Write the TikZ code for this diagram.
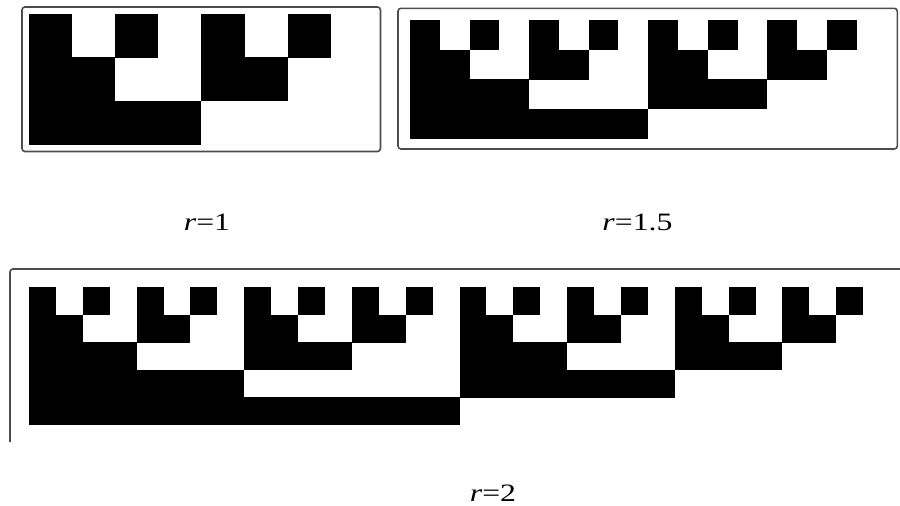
\documentclass[tikz,border=0pt]{standalone}
\usepackage{fontspec}
\setmainfont{Liberation Serif}
\newcommand\drawcantor[5]{%
  \pgfmathtruncatemacro\Lm{#5-1}%
  \foreach \i in {0,...,\Lm}{%
    \pgfmathtruncatemacro\w{2^\i}%
    \pgfmathtruncatemacro\nb{2^(#5-\i-1)-1}%
    \foreach \m in {0,...,\nb}{%
      \fill[cell] ({#1+2*\m*\w*#3},{#2+\i*#4}) rectangle ++({\w*#3},{#4+0.6});
    }%
  }%
}
\tikzset{
  frame/.style={draw=black!70, line width=1.6pt, rounded corners=3pt},
  cell/.style={fill=black},
  lab/.style={font=\fontsize{25}{28}\selectfont, inner sep=0pt, anchor=base}
}
\begin{document}
\begin{tikzpicture}[x=1pt,y=-1pt]
\useasboundingbox (0,0) rectangle (900,506);
% panel r=1
\draw[frame] (22,7) rectangle (380.5,151.5);
\drawcantor{29}{14}{43.1}{43.3}{3}
% panel r=1.5
\draw[frame] (398,8.3) rectangle (897.3,149);
\drawcantor{410}{20}{29.78}{29.6}{4}
% panel r=2
\draw[frame] (10,442) -- (10,269) -- (903,269);
\drawcantor{29}{287.3}{26.91}{27.4}{5}
% labels
\node[lab] (l1) at (207,230) {\scalebox{1.27}[1]{\textit{r}=1}};
\node[lab] (l2) at (637.5,230) {\scalebox{1.27}[1]{\textit{r}=1.5}};
\node[lab] (l3) at (493,501.5) {\scalebox{1.27}[1]{\textit{r}=2}};
\end{tikzpicture}
\end{document}
